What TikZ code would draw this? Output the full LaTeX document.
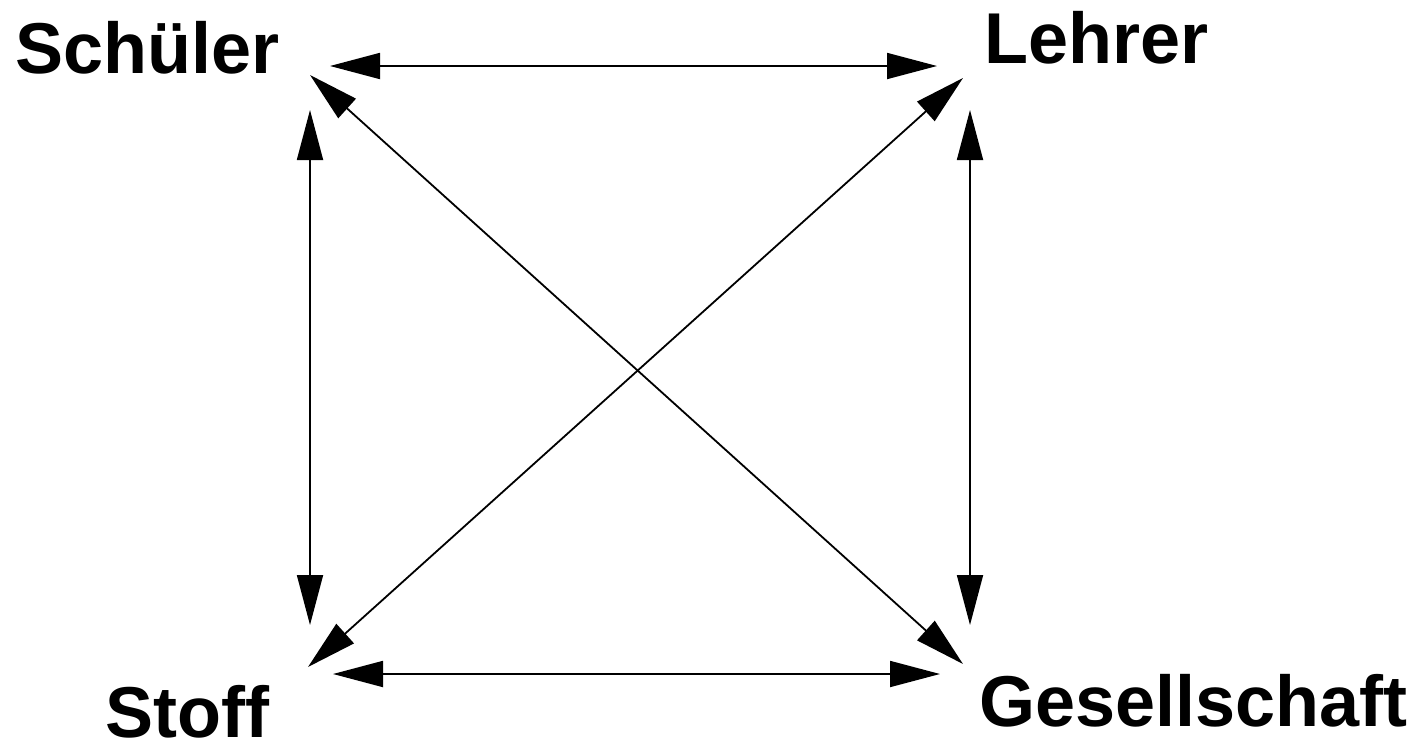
\documentclass[tikz,border=0pt]{standalone}
\usepackage{fontspec}
\setmainfont{Liberation Sans}
\usetikzlibrary{arrows.meta}
\begin{document}
\begin{tikzpicture}[x=1pt,y=-1pt,
  lbl/.style={anchor=base west,inner sep=0pt,font=\fontsize{72}{80}\selectfont\bfseries},
  link/.style={line width=1.8pt,{Triangle[length=50pt,width=26pt]}-{Triangle[length=50pt,width=26pt]}}]
\useasboundingbox (0,0) rectangle (1422,744);
\node[lbl] (schueler) at (15.5,73) {Schüler};
\node[lbl] (lehrer) at (984,63) {Lehrer};
\node[lbl] (stoff) at (105.5,737) {Stoff};
\node[lbl] (gesellschaft) at (979,726) {Gesellschaft};
% arrow end points
\coordinate (sR) at (330,66);
\coordinate (lL) at (937,66);
\coordinate (oR) at (333,674);
\coordinate (gL) at (940,674);
\coordinate (sD) at (310,110);
\coordinate (oU) at (310,625);
\coordinate (lD) at (970,110);
\coordinate (gU) at (970,625);
\coordinate (sX) at (310,75);
\coordinate (gX) at (963,664);
\coordinate (lX) at (963,78);
\coordinate (oX) at (308,667);
\draw[link] (sR) -- (lL);
\draw[link] (oR) -- (gL);
\draw[link] (sD) -- (oU);
\draw[link] (lD) -- (gU);
\draw[link] (sX) -- (gX);
\draw[link] (lX) -- (oX);
\end{tikzpicture}
\end{document}
